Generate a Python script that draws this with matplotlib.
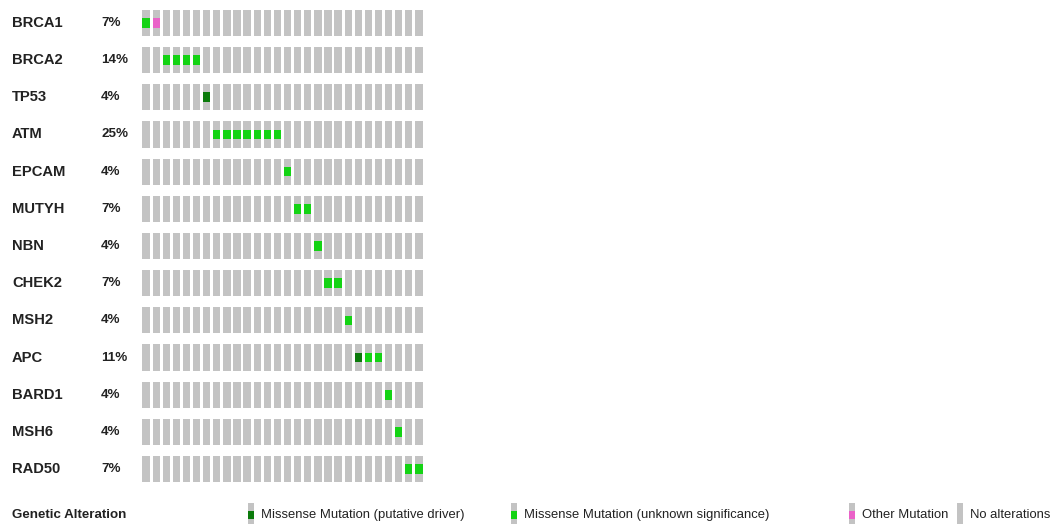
import numpy as np
import matplotlib
matplotlib.use("Agg")
import matplotlib.pyplot as plt
from matplotlib.transforms import blended_transform_factory

plt.rcParams['font.family'] = ['Liberation Sans', 'DejaVu Sans']

# data
genes = ["BRCA1", "BRCA2", "TP53", "ATM", "EPCAM", "MUTYH", "NBN",
         "CHEK2", "MSH2", "APC", "BARD1", "MSH6", "RAD50"]
percents = ["7%", "14%", "4%", "25%", "4%", "7%", "4%",
            "7%", "4%", "11%", "4%", "4%", "7%"]
n_samples = 28
# (gene, sample index, alteration type)
alterations = [
    ("BRCA1", 0, "vus"), ("BRCA1", 1, "other"),
    ("BRCA2", 2, "vus"), ("BRCA2", 3, "vus"), ("BRCA2", 4, "vus"), ("BRCA2", 5, "vus"),
    ("TP53", 6, "driver"),
    ("ATM", 7, "vus"), ("ATM", 8, "vus"), ("ATM", 9, "vus"), ("ATM", 10, "vus"),
    ("ATM", 11, "vus"), ("ATM", 12, "vus"), ("ATM", 13, "vus"),
    ("EPCAM", 14, "vus"),
    ("MUTYH", 15, "vus"), ("MUTYH", 16, "vus"),
    ("NBN", 17, "vus"),
    ("CHEK2", 18, "vus"), ("CHEK2", 19, "vus"),
    ("MSH2", 20, "vus"),
    ("APC", 21, "driver"), ("APC", 22, "vus"), ("APC", 23, "vus"),
    ("BARD1", 24, "vus"),
    ("MSH6", 25, "vus"),
    ("RAD50", 26, "vus"), ("RAD50", 27, "vus"),
]
legend_labels = ["Missense Mutation (putative driver)",
                 "Missense Mutation (unknown significance)",
                 "Other Mutation", "No alterations"]

colors = {"driver": "#0b7a0b", "vus": "#14d314", "other": "#ea62c8"}
gray = "#c3c3c3"

W, H = 1052, 525
fig = plt.figure(figsize=(W / 100, H / 100), dpi=100)

# main grid axes
x0, x1 = 141, 424
y_top, y_bot = 4.4, 487.6
ax = fig.add_axes([x0 / W, 1 - y_bot / H, (x1 - x0) / W, (y_bot - y_top) / H])
ax.set_xlim(-0.5, n_samples - 0.5)
ax.set_ylim(len(genes) - 0.5, -0.5)
ax.axis("off")

cols = np.arange(n_samples)
for r, g in enumerate(genes):
    ax.bar(cols, 0.7, bottom=r - 0.35, width=0.72, color=gray, linewidth=0)

for g, s, kind in alterations:
    r = genes.index(g)
    ax.bar(s, 0.26, bottom=r - 0.13, width=0.72, color=colors[kind], linewidth=0)

tr = blended_transform_factory(fig.transFigure, ax.transData)
for r, (g, p) in enumerate(zip(genes, percents)):
    ax.text(12 / W, r, g, transform=tr, ha="left", va="center",
            fontsize=10.6, fontweight="bold", color="#222222")
    ax.text(101 / W, r, p, transform=tr, ha="left", va="center",
            fontsize=9.6, fontweight="bold", color="#222222")

# legend row
lax = fig.add_axes([0, 0, 1, 35 / H])
lax.set_xlim(0, W)
lax.set_ylim(35, 0)
lax.axis("off")
ly = 25
lax.text(12, ly, "Genetic Alteration", ha="left", va="center",
         fontsize=9.6, fontweight="bold", color="#222222")
leg_x = [248, 511, 849, 957]
leg_kind = ["driver", "vus", "other", None]
for x, lab, kind in zip(leg_x, legend_labels, leg_kind):
    lax.bar(x + 3, 21, bottom=ly - 12, width=6, color=gray, linewidth=0)
    if kind:
        lax.bar(x + 3, 8, bottom=ly - 4, width=6, color=colors[kind], linewidth=0)
    lax.text(x + 13, ly, lab, ha="left", va="center", fontsize=9.4, color="#222222")

fig.savefig("out.png", dpi=100, facecolor="white")
